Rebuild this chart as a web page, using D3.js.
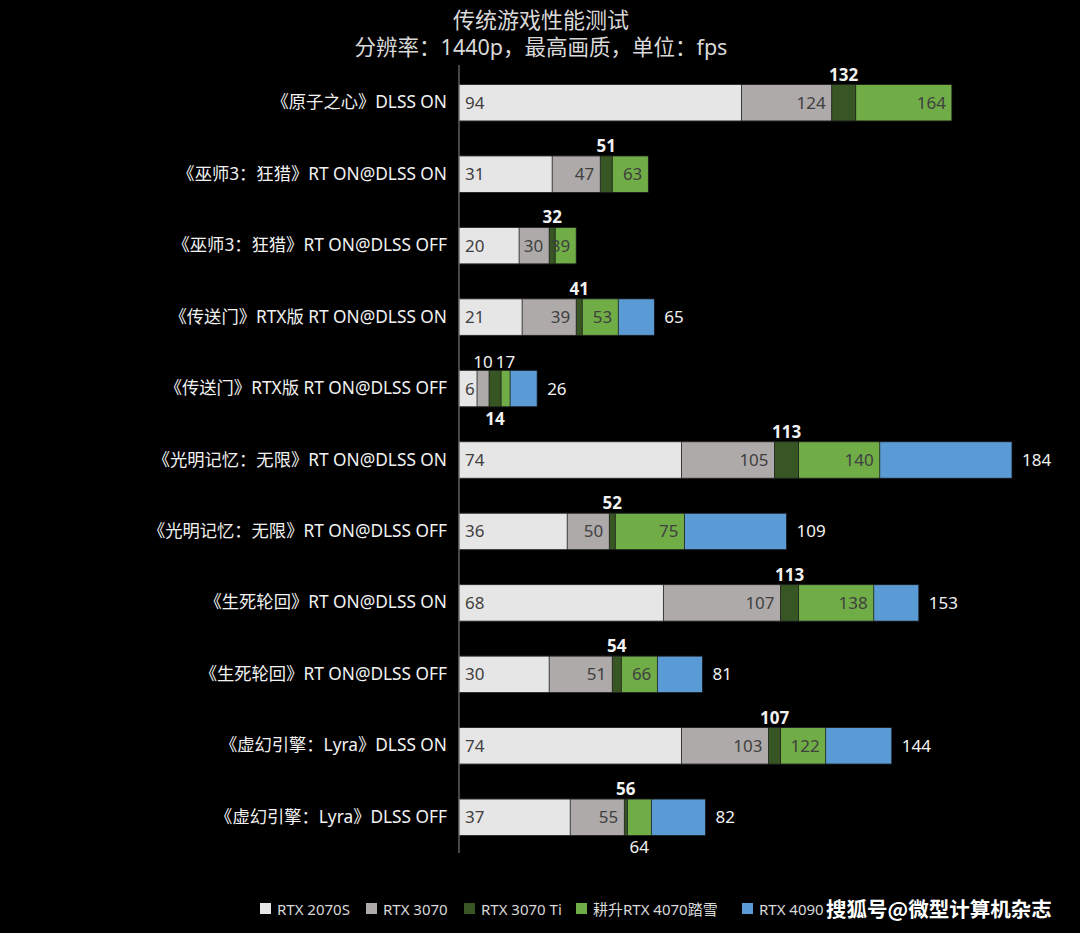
<!DOCTYPE html>
<html><head><meta charset="utf-8">
<script src="https://cdn.jsdelivr.net/npm/d3@7"></script>
<style>
html,body{margin:0;padding:0;background:#000;}
svg{display:block;}
text{font-family:"Noto Sans","Noto Sans CJK SC",sans-serif;}
</style></head>
<body>
<script>
const categories = [
  "《原子之心》DLSS ON",
  "《巫师3：狂猎》RT ON@DLSS ON",
  "《巫师3：狂猎》RT ON@DLSS OFF",
  "《传送门》RTX版 RT ON@DLSS ON",
  "《传送门》RTX版 RT ON@DLSS OFF",
  "《光明记忆：无限》RT ON@DLSS ON",
  "《光明记忆：无限》RT ON@DLSS OFF",
  "《生死轮回》RT ON@DLSS ON",
  "《生死轮回》RT ON@DLSS OFF",
  "《虚幻引擎：Lyra》DLSS ON",
  "《虚幻引擎：Lyra》DLSS OFF"
];
const seriesNames = ["RTX 2070S","RTX 3070","RTX 3070 Ti","耕升RTX 4070踏雪","RTX 4090"];
const rtx2070s = [94,31,20,21,6,74,36,68,30,74,37];
const rtx3070  = [124,47,30,39,10,105,50,107,51,103,55];
const rtx3070ti= [132,51,32,41,14,113,52,113,54,107,56];
const rtx4070  = [164,63,39,53,17,140,75,138,66,122,64];
const rtx4090  = [null,null,null,65,26,184,109,153,81,144,82];
const colors = ["#e7e6e6","#aeaaaa","#375623","#70ad47","#5b9bd5"];
// label placement exceptions: [row, seriesIndex, "above"|"below"]
const labelOverrides = [[4,1,"above"],[4,2,"below"],[4,3,"above"],[10,3,"below"]];

const W=1080,H=933;
const svg=d3.select("body").append("svg").attr("width",W).attr("height",H);
svg.append("rect").attr("width",W).attr("height",H).attr("fill","#000");

const x=d3.scaleLinear().domain([0,184]).range([459,1012]);
const y=d3.scaleBand().domain(categories).range([67,853]).paddingInner(0.49).paddingOuter(0.245);

svg.append("text").attr("x",541).attr("y",28).attr("text-anchor","middle")
  .attr("fill","#d9d9d9").attr("font-size",22).text("传统游戏性能测试");
svg.append("text").attr("x",541).attr("y",55).attr("text-anchor","middle")
  .attr("fill","#d9d9d9").attr("font-size",21.5).text("分辨率：1440p，最高画质，单位：fps");

const series=[rtx2070s,rtx3070,rtx3070ti,rtx4070,rtx4090];
// draw largest first
for(let s=4;s>=0;s--){
  svg.append("g").selectAll("rect").data(categories.map((c,i)=>({c,i,v:series[s][i]})).filter(d=>d.v!=null))
    .join("rect")
    .attr("x",x(0)).attr("y",d=>y(d.c)).attr("height",y.bandwidth())
    .attr("width",d=>x(d.v)-x(0)).attr("fill",colors[s])
    .attr("stroke","#1a1a1a").attr("stroke-width",0.8);
}

// axis
const yAxis=d3.axisLeft(y).tickSize(0).tickPadding(12);
const ag=svg.append("g").attr("transform",`translate(${x(0)},0)`).call(yAxis);
ag.select(".domain").attr("stroke","#8c8c8c").attr("d",`M0,65V853`);
ag.selectAll("text").attr("fill","#f2f2f2").attr("font-size",17.3)
  .style("font-family",'"Noto Sans","Noto Sans CJK SC",sans-serif');

const ovr=(i,s)=>{const o=labelOverrides.find(a=>a[0]===i&&a[1]===s);return o?o[2]:null;};
const lab=svg.append("g");
categories.forEach((c,i)=>{
  const top=y(c), h=y.bandwidth(), mid=top+h/2+6;
  for(let s=0;s<5;s++){
    const v=series[s][i]; if(v==null) continue;
    const prev=s>0?series[s-1][i]:0;
    const o=ovr(i,s);
    let tx,ty,anchor,fill="#404040",weight="normal";
    if(o==="above"||o==="below"||s===2){
      tx=(x(prev)+x(v))/2; anchor="middle"; fill="#f2f2f2";
      const pos=o||"above";
      ty=pos==="above"?(s===2?top-4:top-2):top+h+18;
      if(s===2) weight="bold";
    } else if(s===0){ tx=x(0)+6; anchor="start"; ty=mid; }
    else if(s===4){ tx=x(v)+10; anchor="start"; ty=mid; fill="#f2f2f2"; }
    else { tx=x(v)-6; anchor="end"; ty=mid; }
    lab.append("text").attr("x",tx).attr("y",ty).attr("text-anchor",anchor)
      .attr("fill",fill).attr("font-weight",weight).attr("font-size",17).text(v);
  }
});

// legend
const lx=[260,366,464,576,742];
const lg=svg.append("g");
seriesNames.forEach((n,k)=>{
  lg.append("rect").attr("x",lx[k]).attr("y",903).attr("width",11).attr("height",11).attr("fill",colors[k]);
  lg.append("text").attr("x",lx[k]+17).attr("y",915).attr("fill","#d9d9d9").attr("font-size",15).text(n);
});
// watermark
svg.append("text").attr("x",826).attr("y",917).attr("fill","#fff").attr("font-size",20.5).attr("font-weight","bold")
  .style("font-family",'"Noto Sans CJK SC",sans-serif').text("搜狐号@微型计算机杂志");
</script>
</body></html>
